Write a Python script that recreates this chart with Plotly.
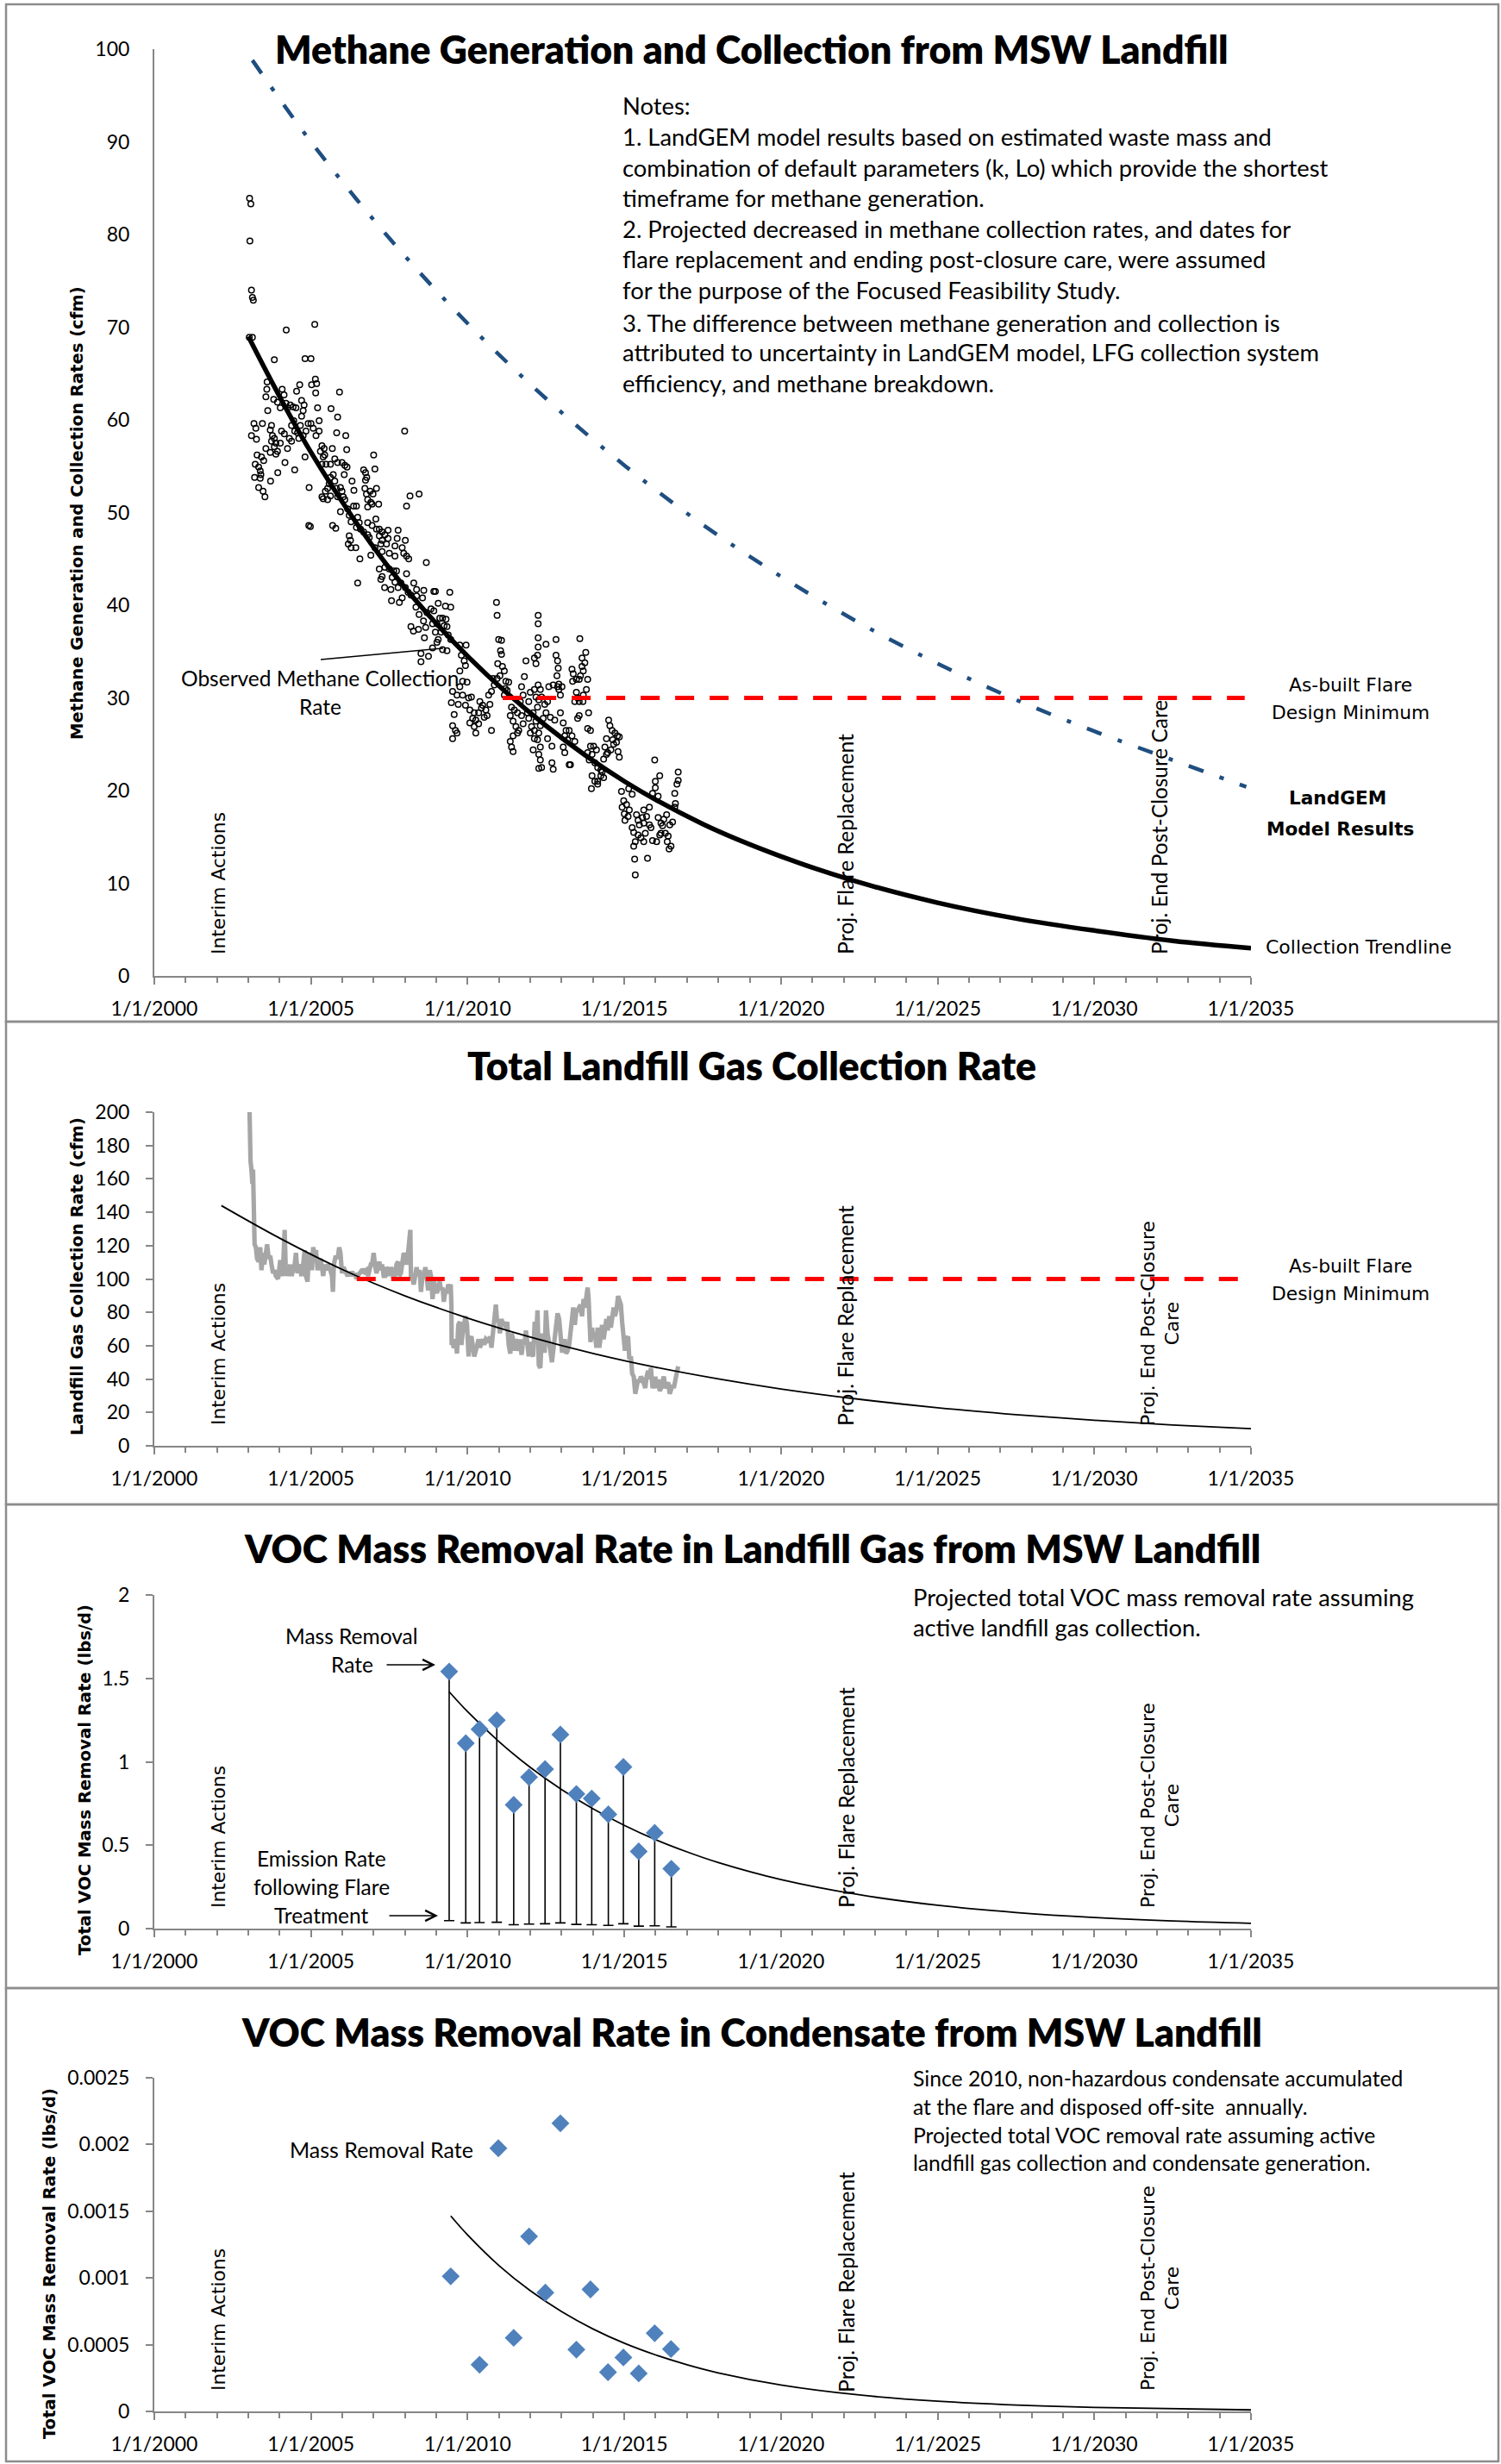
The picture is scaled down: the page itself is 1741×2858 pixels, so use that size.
import plotly.graph_objects as go

W, H = 1741, 2858
CAL = "Lato, 'Open Sans', sans-serif"
VER = "'DejaVu Sans', Verdana, sans-serif"

# ---------------- DATA ----------------
year_ticks = [2000, 2005, 2010, 2015, 2020, 2025, 2030, 2035]
year_labels = ["1/1/%d" % y for y in year_ticks]

# Panel 1: observed methane collection rate (decimal year, cfm)
obs_points = [
    (2003.04, 83.9), (2003.08, 83.3), (2003.05, 79.3), (2003.10, 74.0), (2003.13, 73.2), (2003.16, 72.9),
    (2003.03, 68.9), (2003.13, 68.9), (2004.21, 69.7), (2005.12, 70.3), (2003.83, 66.5), (2004.81, 66.6),
    (2005.00, 66.6), (2005.14, 64.4), (2005.18, 63.9), (2005.02, 63.8), (2004.64, 63.8), (2005.15, 62.9),
    (2005.91, 63.0), (2003.60, 64.1), (2003.59, 63.3), (2003.56, 62.5), (2003.62, 61.0), (2003.81, 62.2),
    (2003.93, 61.9), (2003.18, 59.6), (2003.24, 59.1), (2003.10, 58.3), (2003.26, 57.9), (2003.45, 59.6),
    (2003.56, 56.9), (2003.28, 56.2), (2003.42, 56.0), (2003.49, 55.6), (2003.22, 55.2), (2003.33, 54.9),
    (2003.38, 54.5), (2003.20, 53.8), (2003.40, 54.1), (2003.38, 53.7), (2003.33, 52.7), (2003.47, 52.3),
    (2003.53, 51.7), (2003.71, 53.4), (2003.70, 56.5), (2003.94, 54.3), (2004.17, 55.4), (2003.74, 59.4),
    (2003.70, 58.9), (2003.77, 58.3), (2003.74, 57.7), (2003.83, 58.0), (2003.88, 57.5), (2003.83, 57.1),
    (2003.93, 56.6), (2003.88, 56.3), (2004.02, 57.5), (2004.06, 58.8), (2004.15, 58.5), (2004.25, 56.9),
    (2004.31, 58.0), (2004.38, 57.7), (2004.48, 54.6), (2004.02, 61.3), (2004.14, 62.7), (2004.08, 63.3),
    (2004.20, 61.8), (2004.25, 61.3), (2004.34, 61.6), (2004.43, 61.4), (2004.52, 61.3), (2004.54, 63.1),
    (2004.70, 62.1), (2004.78, 61.6), (2004.75, 61.0), (2004.70, 60.4), (2004.66, 59.4), (2004.45, 59.9),
    (2004.38, 59.4), (2004.48, 58.8), (2004.57, 58.6), (2004.61, 58.0), (2004.75, 58.3), (2004.84, 58.8),
    (2004.91, 59.6), (2005.00, 59.6), (2005.07, 59.1), (2005.16, 58.3), (2005.26, 59.9), (2005.21, 61.3),
    (2005.26, 58.8), (2005.35, 57.2), (2005.42, 56.9), (2005.30, 56.6), (2005.39, 56.0), (2005.44, 56.2),
    (2005.35, 55.2), (2005.48, 55.2), (2005.62, 55.2), (2005.68, 56.9), (2004.81, 56.0), (2004.94, 52.7),
    (2004.93, 48.6), (2004.98, 48.5), (2005.69, 48.6), (2005.79, 48.3), (2005.64, 61.2), (2005.85, 60.3),
    (2005.82, 58.6), (2006.11, 58.3), (2006.14, 56.8), (2005.76, 55.8), (2005.85, 55.4), (2005.99, 55.4),
    (2006.08, 55.1), (2006.15, 54.9), (2006.06, 54.1), (2005.71, 54.1), (2005.62, 53.8), (2005.58, 53.1),
    (2005.76, 53.4), (2005.53, 52.6), (2005.46, 52.3), (2005.39, 51.5), (2005.35, 51.7), (2005.53, 51.4),
    (2005.62, 51.8), (2005.81, 52.6), (2005.94, 52.7), (2005.99, 52.3), (2005.85, 51.7), (2006.03, 51.7),
    (2006.08, 51.4), (2005.94, 50.1), (2006.17, 50.4), (2006.22, 49.7), (2006.28, 49.0), (2006.36, 50.7),
    (2006.37, 52.4), (2006.31, 53.4), (2006.45, 50.7), (2006.49, 49.5), (2006.54, 48.9), (2006.45, 48.4),
    (2006.22, 47.5), (2006.26, 47.0), (2006.19, 46.6), (2006.28, 46.2), (2006.43, 46.2), (2006.56, 45.0),
    (2006.49, 42.4), (2006.68, 54.6), (2006.74, 54.3), (2006.78, 53.8), (2006.74, 53.5), (2006.72, 52.6),
    (2006.77, 52.0), (2006.89, 52.3), (2006.98, 52.0), (2007.09, 52.6), (2007.00, 56.2), (2007.04, 54.7),
    (2006.81, 51.4), (2006.91, 51.1), (2006.81, 50.6), (2006.95, 50.9), (2007.16, 50.9), (2007.07, 49.3),
    (2006.81, 48.9), (2006.95, 48.6), (2006.58, 48.2), (2006.68, 47.9), (2006.81, 47.6), (2006.86, 47.3),
    (2007.09, 48.2), (2007.18, 48.2), (2007.27, 47.9), (2007.46, 48.1), (2007.78, 48.1), (2007.36, 47.6),
    (2007.18, 47.5), (2007.27, 47.0), (2007.46, 47.2), (2007.75, 47.2), (2008.01, 47.0), (2007.04, 46.2),
    (2007.23, 46.6), (2007.41, 46.6), (2007.68, 46.4), (2006.91, 45.4), (2007.27, 45.8), (2007.50, 45.6),
    (2007.68, 45.3), (2007.91, 46.2), (2007.96, 45.6), (2008.05, 45.3), (2008.12, 45.0), (2008.68, 44.6),
    (2007.18, 43.9), (2007.36, 44.1), (2007.50, 43.9), (2007.64, 43.7), (2007.73, 43.7), (2008.05, 43.4),
    (2007.27, 43.1), (2007.23, 42.8), (2007.59, 43.0), (2007.68, 42.5), (2007.87, 42.4), (2008.01, 41.9),
    (2008.28, 42.4), (2008.37, 41.7), (2008.60, 41.6), (2008.92, 41.5), (2009.43, 41.4), (2007.35, 41.9),
    (2007.55, 41.7), (2007.78, 41.9), (2008.10, 41.4), (2008.19, 41.1), (2008.37, 41.0), (2008.56, 40.8),
    (2007.91, 40.8), (2007.57, 40.5), (2007.82, 40.3), (2007.99, 58.8), (2008.05, 50.7), (2008.16, 51.8),
    (2008.45, 52.0),
    (2008.19, 37.7), (2008.27, 37.2), (2008.43, 37.4), (2008.59, 38.3), (2008.70, 39.2), (2008.66, 37.6),
    (2008.51, 34.8), (2008.75, 34.5), (2008.51, 33.9), (2008.35, 39.8), (2008.45, 39.0), (2008.62, 36.5),
    (2008.97, 41.5), (2009.06, 40.2), (2009.29, 39.9), (2009.46, 39.8), (2008.83, 39.6), (2008.92, 39.4),
    (2009.20, 38.6), (2009.11, 38.6), (2009.31, 38.5), (2008.88, 38.0), (2009.02, 38.0), (2009.25, 37.8),
    (2009.34, 37.7), (2008.97, 37.1), (2009.15, 37.1), (2009.06, 36.3), (2009.38, 36.8), (2009.20, 35.2),
    (2009.34, 35.1), (2008.88, 35.4), (2009.02, 36.0), (2009.46, 36.3), (2009.75, 35.7), (2009.95, 35.7),
    (2009.80, 34.6), (2009.89, 34.0), (2009.93, 33.5), (2009.75, 32.9), (2009.84, 31.8), (2009.98, 31.7),
    (2009.75, 31.2), (2009.52, 30.7), (2009.66, 30.3), (2009.84, 30.3), (2010.03, 30.0), (2010.12, 30.1),
    (2009.48, 29.5), (2009.70, 29.3), (2009.93, 29.2), (2010.07, 28.7), (2010.21, 28.4), (2010.35, 28.4),
    (2010.44, 28.9), (2010.58, 28.7), (2010.71, 29.3), (2010.67, 30.3), (2010.76, 30.7), (2010.39, 29.6),
    (2010.48, 29.2), (2010.16, 27.8), (2010.26, 27.6), (2010.35, 27.2), (2010.07, 27.3), (2010.53, 27.9),
    (2010.21, 26.9), (2009.57, 28.2), (2009.52, 27.0), (2009.61, 26.5), (2009.66, 26.2), (2009.52, 25.6),
    (2010.26, 26.2), (2010.76, 26.5), (2010.62, 28.1), (2010.92, 40.3), (2010.94, 38.9), (2010.99, 36.3),
    (2011.08, 36.2), (2011.05, 35.1), (2011.08, 34.7), (2010.96, 33.7), (2011.11, 33.4), (2011.17, 32.9),
    (2011.03, 32.4), (2010.94, 32.1), (2010.81, 32.1), (2010.85, 31.4), (2011.22, 31.8), (2011.31, 31.7),
    (2011.20, 31.0), (2011.26, 30.8), (2011.17, 30.3), (2011.40, 29.0), (2011.49, 28.7), (2011.59, 28.4),
    (2011.36, 28.1), (2011.45, 27.5), (2011.54, 26.9), (2011.59, 26.2), (2011.45, 25.9), (2011.36, 25.3),
    (2011.40, 24.7), (2011.45, 24.2), (2011.63, 26.5), (2011.77, 27.2), (2011.72, 28.1), (2011.68, 29.6),
    (2011.77, 30.3), (2011.72, 31.2), (2011.81, 32.3), (2011.86, 34.0), (2012.00, 30.6), (2011.95, 29.6),
    (2011.91, 28.4), (2011.95, 27.8), (2012.09, 28.4), (2012.04, 26.9), (2012.00, 26.2), (2012.13, 26.5),
    (2012.18, 27.5), (2012.23, 29.0), (2012.27, 29.8), (2012.32, 30.9), (2012.25, 31.4), (2012.18, 30.1),
    (2012.36, 30.1), (2012.46, 29.3), (2012.55, 29.6), (2012.50, 28.4), (2012.41, 27.8), (2012.32, 27.0),
    (2012.27, 26.2), (2012.13, 25.6), (2012.09, 24.4), (2012.23, 25.5), (2012.32, 24.7), (2012.27, 23.9),
    (2012.32, 23.3), (2012.36, 22.5), (2012.27, 22.4), (2012.69, 23.0), (2012.73, 22.3), (2012.69, 24.8),
    (2012.55, 25.6), (2012.64, 27.9), (2012.78, 27.6), (2012.50, 35.8), (2012.13, 34.3), (2012.18, 33.7),
    (2012.23, 34.6), (2012.25, 35.5), (2012.25, 36.5), (2012.25, 38.0), (2012.25, 38.9), (2012.13, 30.9),
    (2012.59, 31.2), (2012.73, 31.4), (2012.87, 31.2), (2012.91, 30.9), (2012.96, 30.3), (2012.82, 34.6),
    (2012.87, 34.0), (2012.89, 33.2), (2012.85, 32.4), (2012.91, 31.5), (2013.01, 31.2), (2012.82, 36.3),
    (2012.96, 28.4), (2013.05, 27.3), (2013.14, 26.5), (2013.10, 25.9), (2013.19, 25.5), (2013.05, 24.7),
    (2013.10, 24.1), (2013.24, 22.8), (2013.28, 22.8), (2013.24, 26.5), (2013.33, 25.9), (2013.42, 25.3),
    (2013.58, 36.4), (2013.33, 33.1), (2013.37, 32.6), (2013.35, 31.8), (2013.47, 32.0), (2013.56, 32.0),
    (2013.60, 32.4), (2013.69, 32.9), (2013.65, 33.4), (2013.74, 33.8), (2013.65, 34.3), (2013.77, 34.9),
    (2013.83, 32.0), (2013.79, 30.9), (2013.69, 30.3), (2013.56, 29.6), (2013.42, 29.6), (2013.51, 30.0),
    (2013.47, 30.6), (2013.68, 29.6), (2013.86, 28.4), (2013.56, 28.1), (2013.51, 27.8), (2013.83, 26.7),
    (2013.92, 26.5), (2013.92, 24.8), (2014.02, 24.8), (2014.11, 24.4), (2013.97, 23.9), (2013.88, 23.3),
    (2014.06, 23.0), (2014.15, 22.5), (2014.25, 22.2), (2014.34, 23.4), (2014.43, 23.9), (2014.38, 24.7),
    (2014.47, 24.1), (2014.57, 24.4), (2014.43, 25.6), (2014.50, 27.6), (2014.54, 27.0), (2014.61, 26.5),
    (2014.70, 26.2), (2014.63, 25.5), (2014.78, 25.9), (2014.84, 25.8), (2014.75, 25.2), (2014.66, 25.0),
    (2014.80, 24.2), (2014.84, 23.6), (2013.97, 21.6), (2014.06, 21.0), (2014.15, 21.0), (2014.25, 21.6),
    (2014.29, 22.0), (2014.34, 21.4), (2013.95, 20.2), (2014.15, 20.7), (2013.83, 24.1), (2014.91, 19.9),
    (2015.14, 20.2), (2015.25, 19.6), (2014.98, 18.9), (2015.07, 18.5), (2014.93, 18.2), (2015.00, 17.5),
    (2015.16, 17.9), (2015.12, 17.2), (2015.02, 16.8), (2015.25, 16.0), (2015.30, 15.5), (2015.39, 17.4),
    (2015.44, 16.8), (2015.48, 16.3), (2015.58, 17.1), (2015.62, 17.9), (2015.62, 16.5), (2015.71, 17.2),
    (2015.80, 18.2), (2015.90, 19.7), (2015.99, 20.3), (2016.08, 19.4), (2016.13, 21.6), (2015.99, 21.0),
    (2015.97, 23.3), (2015.80, 16.3), (2015.85, 16.0), (2015.67, 15.4), (2015.53, 14.9), (2015.44, 15.2),
    (2015.35, 14.5), (2015.30, 14.0), (2015.62, 14.5), (2015.90, 14.6), (2016.03, 14.5), (2016.17, 16.5),
    (2016.26, 16.9), (2016.35, 17.4), (2016.45, 16.3), (2016.54, 16.6), (2016.61, 18.2), (2016.63, 18.6),
    (2016.68, 20.7), (2016.72, 21.1), (2016.72, 22.0), (2016.61, 19.7), (2016.17, 15.4), (2016.31, 15.4),
    (2016.37, 14.5), (2016.43, 13.7), (2016.49, 14.0), (2015.33, 12.6), (2015.74, 12.7), (2015.35, 10.9),
    (2016.08, 17.1), (2016.22, 16.2), (2016.40, 15.1), (2016.13, 15.2),
]

landgem_year = [2003.13, 2005, 2007.5, 2010, 2012.5, 2015, 2017.5, 2020, 2022.5, 2025, 2027.5, 2030, 2032.5, 2034.85]
landgem_cfm = [98.8, 90.0, 79.6, 70.4, 62.3, 55.1, 48.7, 43.1, 38.1, 33.7, 29.8, 26.4, 23.3, 20.4]

trend1_year = [2003.0, 2005, 2007.5, 2010, 2012.5, 2015, 2017.5, 2020, 2022.5, 2025, 2027.5, 2030, 2032.5, 2035]
trend1_cfm = [69.0, 56.5, 44.0, 34.5, 27.0, 21.0, 16.4, 12.9, 10.1, 7.9, 6.2, 4.9, 3.8, 3.0]

flare1_year = [2011.12, 2034.8]
flare1_cfm = [30, 30]

# Panel 2: total landfill gas collection rate (decimal year, cfm)
lfg_points = [
    (2003.04, 200), (2003.05, 179.4), (2003.07, 170.7), (2003.10, 165.6), (2003.13, 157.0), (2003.15, 165.6),
    (2003.16, 144.9), (2003.18, 125.9), (2003.20, 120.8), (2003.24, 119.0), (2003.28, 112.2), (2003.33, 110.4),
    (2003.38, 119.0), (2003.42, 105.3), (2003.47, 115.6), (2003.51, 108.7), (2003.56, 119.0), (2003.60, 120.8),
    (2003.65, 112.2), (2003.70, 113.9), (2003.74, 108.7), (2003.79, 103.5), (2003.83, 105.3), (2003.88, 101.8),
    (2003.95, 100.1), (2004.02, 111.3), (2004.06, 101.8), (2004.11, 107.0), (2004.16, 129.4), (2004.20, 101.8),
    (2004.25, 107.0), (2004.29, 101.8), (2004.34, 108.7), (2004.38, 101.8), (2004.43, 105.3), (2004.48, 108.7),
    (2004.52, 115.6), (2004.57, 103.5), (2004.61, 108.7), (2004.66, 105.3), (2004.70, 101.8), (2004.75, 108.7),
    (2004.80, 117.3), (2004.84, 101.8), (2004.89, 98.4), (2004.93, 115.6), (2004.98, 112.2), (2005.03, 105.3),
    (2005.07, 119.0), (2005.12, 113.9), (2005.16, 117.3), (2005.21, 105.3), (2005.26, 108.7), (2005.30, 112.2),
    (2005.35, 107.0), (2005.39, 101.8), (2005.44, 108.7), (2005.49, 105.3), (2005.53, 108.7), (2005.58, 107.0),
    (2005.62, 105.3), (2005.67, 101.8), (2005.70, 92.3), (2005.73, 108.7), (2005.79, 113.9), (2005.85, 112.2),
    (2005.90, 119.0), (2005.94, 115.6), (2005.99, 103.5), (2006.04, 107.0), (2006.08, 105.3), (2006.13, 103.5),
    (2006.17, 101.8), (2006.22, 104.4), (2006.26, 101.8), (2006.31, 104.4), (2006.36, 101.8), (2006.40, 103.5),
    (2006.45, 100.1), (2006.49, 101.8), (2006.54, 102.7), (2006.59, 104.4), (2006.63, 103.5), (2006.68, 106.1),
    (2006.72, 104.4), (2006.77, 105.3), (2006.82, 101.8), (2006.86, 105.3), (2006.91, 108.7), (2006.95, 108.7),
    (2007.00, 115.6), (2007.04, 108.7), (2007.09, 103.5), (2007.14, 107.0), (2007.18, 110.4), (2007.23, 105.3),
    (2007.27, 108.7), (2007.32, 101.8), (2007.37, 101.8), (2007.41, 107.0), (2007.46, 105.3), (2007.50, 101.8),
    (2007.55, 107.0), (2007.59, 105.3), (2007.64, 100.1), (2007.69, 103.5), (2007.73, 108.7), (2007.78, 110.4),
    (2007.82, 101.8), (2007.87, 103.5), (2007.92, 108.7), (2007.96, 115.6), (2008.01, 112.2), (2008.05, 108.7),
    (2008.10, 115.6), (2008.14, 127.7), (2008.17, 129.4), (2008.19, 101.8), (2008.24, 100.1), (2008.28, 96.7),
    (2008.33, 105.3), (2008.37, 107.0), (2008.42, 101.8), (2008.47, 105.3), (2008.51, 92.3), (2008.56, 101.8),
    (2008.60, 101.8), (2008.65, 107.0), (2008.70, 100.1), (2008.74, 93.2), (2008.79, 105.3), (2008.83, 101.8),
    (2008.88, 88.0), (2008.93, 98.4), (2008.97, 94.9), (2009.02, 91.5), (2009.06, 94.9), (2009.11, 98.4),
    (2009.15, 93.2), (2009.20, 94.9), (2009.24, 86.3), (2009.29, 93.2), (2009.33, 91.5), (2009.38, 96.7),
    (2009.42, 94.9), (2009.46, 96.7), (2009.48, 84.6), (2009.49, 60.5), (2009.51, 62.2), (2009.56, 58.8),
    (2009.61, 63.9), (2009.66, 55.3), (2009.70, 72.5), (2009.75, 74.3), (2009.80, 60.5), (2009.84, 67.4),
    (2009.89, 74.3), (2009.93, 77.7), (2009.98, 72.5), (2010.03, 53.6), (2010.07, 63.9), (2010.12, 65.6),
    (2010.16, 60.5), (2010.21, 53.6), (2010.26, 57.0), (2010.30, 60.5), (2010.35, 63.9), (2010.39, 58.8),
    (2010.44, 62.2), (2010.49, 63.9), (2010.53, 60.5), (2010.58, 63.9), (2010.67, 62.2), (2010.71, 65.6),
    (2010.76, 58.8), (2010.81, 67.4), (2010.85, 72.5), (2010.90, 84.6), (2010.94, 74.3), (2010.99, 76.0),
    (2011.03, 67.4), (2011.08, 76.0), (2011.13, 72.5), (2011.17, 74.3), (2011.22, 70.8), (2011.26, 74.3),
    (2011.31, 60.5), (2011.36, 55.3), (2011.40, 67.4), (2011.45, 63.9), (2011.49, 57.0), (2011.54, 63.9),
    (2011.59, 60.5), (2011.63, 57.0), (2011.68, 63.9), (2011.72, 54.5), (2011.77, 62.2), (2011.81, 60.5),
    (2011.86, 69.1), (2011.91, 57.0), (2011.95, 53.6), (2012.00, 62.2), (2012.04, 55.3), (2012.09, 53.6),
    (2012.14, 74.3), (2012.18, 63.9), (2012.23, 81.2), (2012.27, 48.4), (2012.32, 46.7), (2012.37, 67.4),
    (2012.41, 57.0), (2012.46, 57.0), (2012.50, 81.2), (2012.55, 67.4), (2012.59, 60.5), (2012.64, 57.0),
    (2012.69, 50.1), (2012.73, 57.0), (2012.78, 63.9), (2012.82, 74.3), (2012.87, 79.4), (2012.92, 76.0),
    (2012.96, 69.1), (2013.01, 57.0), (2013.05, 57.0), (2013.10, 63.9), (2013.14, 55.3), (2013.19, 57.0),
    (2013.24, 60.5), (2013.28, 69.1), (2013.33, 81.2), (2013.37, 82.9), (2013.42, 72.5), (2013.47, 81.2),
    (2013.51, 81.2), (2013.56, 82.9), (2013.60, 84.6), (2013.65, 77.7), (2013.70, 88.0), (2013.74, 82.9),
    (2013.79, 93.2), (2013.83, 94.9), (2013.86, 88.0), (2013.88, 77.7), (2013.90, 63.9), (2013.92, 62.2),
    (2013.97, 70.8), (2014.02, 63.9), (2014.06, 67.4), (2014.11, 58.8), (2014.15, 70.8), (2014.20, 58.8),
    (2014.25, 65.6), (2014.29, 72.5), (2014.34, 63.9), (2014.38, 72.5), (2014.43, 76.0), (2014.47, 69.1),
    (2014.52, 77.7), (2014.57, 70.8), (2014.61, 79.4), (2014.66, 82.9), (2014.70, 77.7), (2014.75, 81.2),
    (2014.80, 89.8), (2014.84, 88.0), (2014.89, 84.6), (2014.93, 74.3), (2014.98, 60.5), (2015.02, 57.0),
    (2015.07, 63.9), (2015.12, 65.6), (2015.16, 51.9), (2015.21, 53.6), (2015.25, 43.3), (2015.30, 41.5),
    (2015.35, 31.2), (2015.39, 36.4), (2015.44, 39.8), (2015.48, 38.1), (2015.53, 41.5), (2015.58, 39.8),
    (2015.62, 36.4), (2015.67, 34.6), (2015.71, 41.5), (2015.76, 45.0), (2015.80, 39.8), (2015.85, 46.7),
    (2015.90, 34.6), (2015.94, 36.4), (2015.99, 41.5), (2016.03, 34.6), (2016.08, 39.8), (2016.13, 32.9),
    (2016.17, 34.6), (2016.22, 39.8), (2016.26, 41.5), (2016.31, 34.6), (2016.36, 36.4), (2016.40, 38.1),
    (2016.45, 31.2), (2016.49, 32.9), (2016.54, 36.4), (2016.58, 34.6), (2016.63, 41.5), (2016.67, 43.3),
    (2016.72, 47.6),
]

trend2_year = [2002.14, 2004, 2006, 2008, 2010, 2012, 2014, 2016, 2018, 2020, 2022.5, 2025, 2027.5, 2030, 2032.5, 2035]
trend2_cfm = [144, 124.5, 105.7, 89.9, 76.6, 65.2, 55.4, 47.1, 40.1, 34.1, 27.9, 22.8, 18.7, 15.3, 12.5, 10.3]

flare2_year = [2006.46, 2034.8]
flare2_cfm = [100, 100]

# Panel 3: VOC mass removal in landfill gas (lbs/d)
voc_gas_year = [2009.41, 2009.94, 2010.38, 2010.93, 2011.47, 2011.96, 2012.47, 2012.96,
                2013.47, 2013.96, 2014.49, 2014.97, 2015.46, 2015.97, 2016.50]
voc_gas_rate = [1.541, 1.111, 1.195, 1.249, 0.742, 0.908, 0.956, 1.163,
                0.807, 0.780, 0.685, 0.969, 0.463, 0.574, 0.359]
voc_gas_emission = [0.048, 0.034, 0.036, 0.038, 0.023, 0.027, 0.029, 0.034,
                    0.025, 0.023, 0.019, 0.029, 0.015, 0.017, 0.010]

trend3_year = [2009.41, 2010, 2011, 2012, 2013, 2014, 2015, 2016, 2017, 2018, 2020, 2022.5, 2025, 2027.5, 2030, 2032.5, 2035]
trend3_rate = [1.42, 1.30, 1.121, 0.966, 0.833, 0.718, 0.619, 0.533, 0.460, 0.396, 0.294, 0.203, 0.140, 0.0966, 0.0666, 0.046, 0.0317]

# Panel 4: VOC mass removal in condensate (lbs/d)
voc_cond_year = [2009.46, 2010.38, 2010.98, 2011.47, 2011.96, 2012.48, 2012.96,
                 2013.47, 2013.92, 2014.48, 2014.97, 2015.46, 2015.97, 2016.49]
voc_cond_rate = [0.001012, 0.000350, 0.001972, 0.000551, 0.001311, 0.000890, 0.002159,
                 0.000463, 0.000914, 0.000294, 0.000404, 0.000285, 0.000586, 0.000467]

trend4_year = [2009.46, 2010, 2011, 2012, 2013, 2014, 2015, 2016, 2017, 2018, 2020, 2022.5, 2025, 2027.5, 2030, 2035]
trend4_rate = [0.001465, 0.001322, 0.001093, 0.000904, 0.000748, 0.000618, 0.000511, 0.000423,
               0.000350, 0.000289, 0.000198, 0.000123, 0.0000764, 0.0000476, 0.0000296, 0.0000114]

# ---------------- FIGURE ----------------
AXIS_GRAY = "#868686"


def px(x):
    return x / W


def py(y):
    return 1 - y / H


fig = go.Figure()

# Panel 1
fig.add_trace(go.Scatter(x=[p[0] for p in obs_points], y=[p[1] for p in obs_points], mode="markers",
                         marker=dict(symbol="circle-open", size=6.5, color="black", line=dict(width=1.5)),
                         xaxis="x", yaxis="y"))
fig.add_trace(go.Scatter(x=trend1_year, y=trend1_cfm, mode="lines", line=dict(color="black", width=5.5, shape="spline"),
                         xaxis="x", yaxis="y"))
fig.add_trace(go.Scatter(x=flare1_year, y=flare1_cfm, mode="lines", line=dict(color="#FF0000", width=5, dash="22px,18px"),
                         xaxis="x", yaxis="y"))
fig.add_trace(go.Scatter(x=landgem_year, y=landgem_cfm, mode="lines",
                         line=dict(color="#1F4E80", width=4.5, dash="18px,20px,5px,20px", shape="spline"),
                         xaxis="x", yaxis="y"))

# Panel 2
fig.add_trace(go.Scatter(x=[p[0] for p in lfg_points], y=[p[1] for p in lfg_points], mode="lines",
                         line=dict(color="#A6A6A6", width=5.2), xaxis="x2", yaxis="y2"))
fig.add_trace(go.Scatter(x=trend2_year, y=trend2_cfm, mode="lines", line=dict(color="black", width=1.8, shape="spline"),
                         xaxis="x2", yaxis="y2"))
fig.add_trace(go.Scatter(x=flare2_year, y=flare2_cfm, mode="lines", line=dict(color="#FF0000", width=5, dash="22px,18px"),
                         xaxis="x2", yaxis="y2"))

# Panel 3
fig.add_trace(go.Scatter(x=trend3_year, y=trend3_rate, mode="lines", line=dict(color="black", width=1.8, shape="spline"),
                         xaxis="x3", yaxis="y3"))
fig.add_trace(go.Scatter(x=voc_gas_year, y=voc_gas_rate, mode="markers",
                         marker=dict(symbol="diamond", size=16, color="#4F81BD"),
                         error_y=dict(type="data", symmetric=False, array=[0] * len(voc_gas_rate),
                                      arrayminus=[r - e for r, e in zip(voc_gas_rate, voc_gas_emission)],
                                      color="black", thickness=1.6, width=6),
                         xaxis="x3", yaxis="y3"))

# Panel 4
fig.add_trace(go.Scatter(x=trend4_year, y=trend4_rate, mode="lines", line=dict(color="black", width=1.8, shape="spline"),
                         xaxis="x4", yaxis="y4"))
fig.add_trace(go.Scatter(x=voc_cond_year, y=voc_cond_rate, mode="markers",
                         marker=dict(symbol="diamond", size=16, color="#4F81BD"),
                         xaxis="x4", yaxis="y4"))

# axes
x_dom = [px(179), px(1451)]
panels = [  # (y0 pixel, y1 pixel, range, tickvals, ticktext, ticks)
    (1132, 57, [0, 100], list(range(0, 101, 10)), [str(v) for v in range(0, 101, 10)], ""),
    (1677, 1290, [0, 200], list(range(0, 201, 20)), [str(v) for v in range(0, 201, 20)], "outside"),
    (2237, 1850, [0, 2], [0, 0.5, 1, 1.5, 2], ["0", "0.5", "1", "1.5", "2"], "outside"),
    (2797, 2410, [0, 0.0025], [0, 0.0005, 0.001, 0.0015, 0.002, 0.0025],
     ["0", "0.0005", "0.001", "0.0015", "0.002", "0.0025"], "outside"),
]
layout_axes = {}
for i, (yb, yt, rng, tv, tt, tk) in enumerate(panels, start=1):
    xs = "xaxis" if i == 1 else "xaxis%d" % i
    ys = "yaxis" if i == 1 else "yaxis%d" % i
    yref = "y" if i == 1 else "y%d" % i
    xref = "x" if i == 1 else "x%d" % i
    layout_axes[xs] = dict(domain=x_dom, anchor=yref, range=[2000, 2035], tickvals=year_ticks, ticktext=year_labels,
                           automargin=False,
                           showline=True, linecolor=AXIS_GRAY, linewidth=2, ticks="outside", ticklen=8,
                           tickcolor=AXIS_GRAY, tickwidth=2, showgrid=False, zeroline=False,
                           tickfont=dict(family=CAL, size=23, color="black"), ticklabelstandoff=8,
                           minor=dict(dtick=1, tick0=2000, ticks="outside", ticklen=6, tickcolor=AXIS_GRAY,
                                      tickwidth=2, showgrid=False))
    layout_axes[ys] = dict(domain=[py(yb), py(yt)], anchor=xref, range=rng, tickvals=tv, ticktext=tt,
                           automargin=False,
                           showline=True, linecolor=AXIS_GRAY, linewidth=2, ticks=tk, ticklen=8,
                           tickcolor=AXIS_GRAY, tickwidth=2, showgrid=False, zeroline=False,
                           tickfont=dict(family=CAL, size=23, color="black"),
                           ticklabelstandoff=(22 if tk == "" else 14))

annotations = []


def ann(text, x, y, size, family=CAL, angle=0, xanchor="center", yanchor="middle", bold=False, weight=None):
    if bold:
        text = "<b>%s</b>" % text
    font = dict(family=family, size=size, color="black")
    if weight is not None:
        font["weight"] = weight
    annotations.append(dict(text=text, x=px(x), y=py(y), xref="paper", yref="paper", showarrow=False,
                            font=font, textangle=angle, xanchor=xanchor, yanchor=yanchor))


# titles
for t, yy in [("Methane Generation and Collection from MSW Landfill", 56),
              ("Total Landfill Gas Collection Rate", 1235),
              ("VOC Mass Removal Rate in Landfill Gas from MSW Landfill", 1795),
              ("VOC Mass Removal Rate in Condensate from MSW Landfill", 2356)]:
    ann(t, 872, yy, 44.5, weight=800)

# y-axis titles
ann("Methane Generation and Collection Rates (cfm)", 89, 595, 19.6, family=VER, angle=-90, bold=True)
ann("Landfill Gas Collection Rate (cfm)", 89, 1481, 19.6, family=VER, angle=-90, bold=True)
ann("Total VOC Mass Removal Rate (lbs/d)", 98, 2065, 19.6, family=VER, angle=-90, bold=True)
ann("Total VOC Mass Removal Rate (lbs/d)", 57, 2626, 19.6, family=VER, angle=-90, bold=True)

# notes panel 1
notes = ["Notes:",
         "1. LandGEM model results based on estimated waste mass and",
         "combination of default parameters (k, Lo) which provide the shortest",
         "timeframe for methane generation.",
         "2. Projected decreased in methane collection rates, and dates for",
         "flare replacement and ending post-closure care, were assumed",
         "for the purpose of the Focused Feasibility Study.",
         "3. The difference between methane generation and collection is",
         "attributed to uncertainty in LandGEM model, LFG collection system",
         "efficiency, and methane breakdown."]
for line, yy in zip(notes, [122, 159, 195, 230, 266, 301, 337, 374, 408, 445]):
    ann(line, 720, yy, 27.4, xanchor="left")

# vertical labels
for yy in [1025, 1571, 2131, 2691]:
    ann("Interim Actions", 253, yy, 21.8, family=VER, angle=-90)
for yy in [979, 1526, 2085, 2647]:
    ann("Proj. Flare Replacement", 981, yy, 24.8, angle=-90)
ann("Proj. End Post-Closure Care", 1344, 960, 24.4, angle=-90)
for yy in [1535, 2094, 2654]:
    ann("Proj. End Post-Closure<br>Care", 1345, yy, 21.8, family=VER, angle=-90)

# right-side labels
ann("As-built Flare", 1566, 795, 21.8, family=VER)
ann("Design Minimum", 1566, 826, 21.8, family=VER)
ann("LandGEM", 1551, 926, 21.6, family=VER, bold=True)
ann("Model Results", 1554, 962, 21.6, family=VER, bold=True)
ann("Collection Trendline", 1576, 1098, 22, family=VER)
ann("As-built Flare", 1566, 1468, 21.8, family=VER)
ann("Design Minimum", 1566, 1500, 21.8, family=VER)

ann("Observed Methane Collection", 371, 786, 24.5)
ann("Rate", 371, 819, 24.5)

# panel 3 labels
ann("Mass Removal", 408, 1897, 24.5)
ann("Rate", 408, 1930, 24.5)
ann("Emission Rate", 373, 2155, 24.5)
ann("following Flare", 373, 2188, 24.5)
ann("Treatment", 373, 2221, 24.5)
ann("Projected total VOC mass removal rate assuming", 1057, 1852, 27.3, xanchor="left")
ann("active landfill gas collection.", 1057, 1887, 27.3, xanchor="left")

# panel 4 labels
ann("Mass Removal Rate", 551, 2493, 25, xanchor="right")
for line, yy in zip(["Since 2010, non-hazardous condensate accumulated",
                     "at the flare and disposed off-site  annually.",
                     "Projected total VOC removal rate assuming active",
                     "landfill gas collection and condensate generation."],
                    [2410, 2443, 2476, 2508]):
    ann(line, 1057, yy, 24.7, xanchor="left")

# arrows in panel 3
for (tx, ty, tail) in [(505, 1931, 447), (508, 2222, 450)]:
    annotations.append(dict(text="", x=px(tx), y=py(ty), xref="paper", yref="paper", showarrow=True,
                            ax=tail - tx, ay=0, arrowhead=5, arrowsize=1.6, arrowwidth=1.5, arrowcolor="black"))

shapes = []
# pointer line for observed label
shapes.append(dict(type="line", xref="paper", yref="paper", x0=px(372), y0=py(765), x1=px(514), y1=py(752),
                   line=dict(color="black", width=1.5)))
# panel frames
for (t, b) in [(5, 1185), (1185, 1745), (1745, 2306), (2306, 2855)]:
    shapes.append(dict(type="rect", xref="paper", yref="paper", x0=px(7), x1=px(1738), y0=py(b), y1=py(t),
                       line=dict(color="#8C8C8C", width=2.5), fillcolor="rgba(0,0,0,0)"))

fig.update_layout(width=W, height=H, margin=dict(l=0, r=0, t=0, b=0, autoexpand=False), paper_bgcolor="white",
                  plot_bgcolor="white", showlegend=False, annotations=annotations, shapes=shapes, **layout_axes)

fig.write_html("out.html")
